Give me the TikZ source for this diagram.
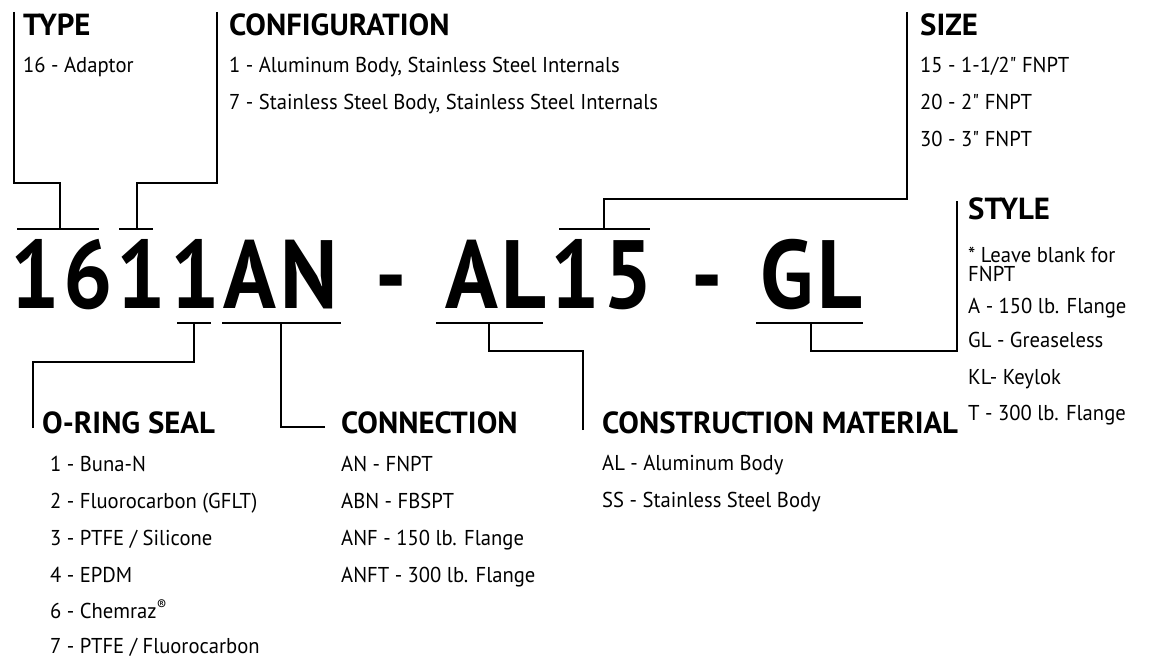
\documentclass[tikz,border=0pt]{standalone}
\usepackage{fontspec}
\setmainfont{PT Sans}[FakeStretch=0.96,Ligatures=TeXOff]
\newfontfamily\headfont{PT Sans}[FakeStretch=1.01]
\newfontfamily\bigfont{PT Sans}[FakeStretch=0.9,LetterSpace=4]
\begin{document}
\begin{tikzpicture}[x=1pt,y=-1pt,
  conn/.style={line width=2.2pt,line cap=butt,line join=miter},
  bar/.style={line width=2.2pt},
  head/.style={anchor=base west,inner sep=0pt,font=\headfont\fontsize{30.5}{32}\selectfont\bfseries},
  item/.style={anchor=base west,inner sep=0pt,font=\fontsize{21.5}{22}\selectfont},
  code/.style={anchor=base west,inner sep=0pt,font=\bigfont\fontsize{97}{100}\selectfont\bfseries}]
\fill[white] (0,0) rectangle (1149,658);
\useasboundingbox (0,0) rectangle (1149,658);
% code
\node[code] (code) at (10,308) {1611AN \hspace{12pt}- \hspace{12pt}AL15 \hspace{12pt}- \hspace{12pt}GL};
% headings
\node[head] (type) at (23,35.5) {TYPE};
\node[head] (config) at (229,35.5) {CONFIGURATION};
\node[head] (size) at (920,35.5) {SIZE};
\node[head] (style) at (968,219) {STYLE};
\node[head] (oring) at (42,433) {O-RING SEAL};
\node[head] (connection) at (341,433) {CONNECTION};
\node[head] (material) at (602,433) {CONSTRUCTION MATERIAL};
% items
\node[item] (t1) at (23,73) {16 - Adaptor};
\node[item] (c1) at (229,73) {1 - Aluminum Body, Stainless Steel Internals};
\node[item] (c2) at (229,110) {7 - Stainless Steel Body, Stainless Steel Internals};
\node[item] (s1) at (920,73) {15 - 1-1/2" FNPT};
\node[item] (s2) at (920,110) {20 - 2" FNPT};
\node[item] (s3) at (920,147) {30 - 3" FNPT};
\node[item,align=left,font=\fontsize{21.5}{19}\selectfont] (y1) at (968,281) {* Leave blank for\\FNPT};
\node[item] (y3) at (968,313) {A - 150 lb. Flange};
\node[item] (y4) at (968,347) {GL - Greaseless};
\node[item] (y5) at (968,384) {KL- Keylok};
\node[item] (y6) at (968,420) {T - 300 lb. Flange};
\node[item] (o1) at (50,471) {1 - Buna-N};
\node[item] (o2) at (50,508) {2 - Fluorocarbon (GFLT)};
\node[item] (o3) at (50,545) {3 - PTFE / Silicone};
\node[item] (o4) at (50,582) {4 - EPDM};
\node[item] (o5) at (50,618) {6 - Chemraz\textsuperscript{®}};
\node[item] (o6) at (50,653.5) {7 - PTFE / Fluorocarbon};
\node[item] (n1) at (341,471) {AN - FNPT};
\node[item] (n2) at (341,508) {ABN - FBSPT};
\node[item] (n3) at (341,545) {ANF - 150 lb. Flange};
\node[item] (n4) at (341,582) {ANFT - 300 lb. Flange};
\node[item] (m1) at (602,470) {AL - Aluminum Body};
\node[item] (m2) at (602,507) {SS - Stainless Steel Body};
% bars
\coordinate (bType1) at (17,229); \coordinate (bType2) at (99,229);
\coordinate (bConf1) at (119,229); \coordinate (bConf2) at (153,229);
\coordinate (bSize1) at (559,229); \coordinate (bSize2) at (650,229);
\coordinate (bOr1) at (177,323); \coordinate (bOr2) at (211,323);
\coordinate (bCon1) at (222,323); \coordinate (bCon2) at (341,323);
\coordinate (bMat1) at (436,323); \coordinate (bMat2) at (543,323);
\coordinate (bSty1) at (756,323); \coordinate (bSty2) at (863,323);
\draw[bar] (bType1) -- (bType2);
\draw[bar] (bConf1) -- (bConf2);
\draw[bar] (bSize1) -- (bSize2);
\draw[bar] (bOr1) -- (bOr2);
\draw[bar] (bCon1) -- (bCon2);
\draw[bar] (bMat1) -- (bMat2);
\draw[bar] (bSty1) -- (bSty2);
% connector ends
\coordinate (eType) at (14,12);
\coordinate (eConf) at (217,12);
\coordinate (eSize) at (907,12);
\coordinate (eSty) at (957,201);
\coordinate (eOr) at (33,428);
\coordinate (eCon) at (325,427);
\coordinate (eMat) at (583,430);
\draw[conn] (eType) -- (14,183) -- (60,183) -- (60,229);
\draw[conn] (eConf) -- (217,183) -- (137,183) -- (137,229);
\draw[conn] (eSize) -- (907,199) -- (604,199) -- (604,229);
\draw[conn] (eSty) -- (957,351) -- (811,351) -- (811,323);
\draw[conn] (eOr) -- (33,362) -- (194,362) -- (194,323);
\draw[conn] (eCon) -- (281,427) -- (281,323);
\draw[conn] (eMat) -- (583,351) -- (489,351) -- (489,323);
\end{tikzpicture}
\end{document}
